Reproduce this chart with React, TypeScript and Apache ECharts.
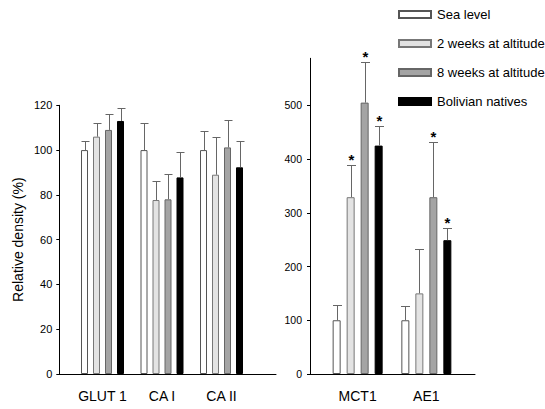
import React, { useEffect, useRef } from "react";
import * as echarts from "echarts";

const seriesNames = ["Sea level", "2 weeks at altitude", "8 weeks at altitude", "Bolivian natives"];
const leftCategories = ["GLUT 1", "CA I", "CA II"];
const rightCategories = ["MCT1", "AE1"];
const leftTicks = [0, 20, 40, 60, 80, 100, 120];
const rightTicks = [0, 100, 200, 300, 400, 500];

// Left panel (means and upper SD)
const seaLevelLeft = [100, 100, 100];
const seaLevelLeftSD = [4, 12, 8.5];
const twoWeeksLeft = [106, 77.7, 89];
const twoWeeksLeftSD = [6, 8.6, 16.7];
const eightWeeksLeft = [109, 78, 101.2];
const eightWeeksLeftSD = [7, 11.1, 12.4];
const bolivianLeft = [113, 87.8, 92.3];
const bolivianLeftSD = [6, 11.5, 11.9];

// Right panel
const seaLevelRight = [100, 100];
const seaLevelRightSD = [28, 26];
const twoWeeksRight = [329, 150];
const twoWeeksRightSD = [60, 83];
const eightWeeksRight = [505, 329];
const eightWeeksRightSD = [76, 102];
const bolivianRight = [425, 249];
const bolivianRightSD = [36, 22];

// significance markers
const seaLevelRightStar = [0, 0];
const twoWeeksRightStar = [1, 0];
const eightWeeksRightStar = [1, 1];
const bolivianRightStar = [1, 1];

const FONT = '"Liberation Sans", Arial, Helvetica, sans-serif';

const barStyles = [
  { color: "#ffffff", borderColor: "#555555", borderWidth: 1 },
  { color: "#e3e3e3", borderColor: "#777777", borderWidth: 1 },
  { color: "#a4a4a4", borderColor: "#666666", borderWidth: 1 },
  { color: "#000000", borderColor: "#000000", borderWidth: 1 },
];

export default function App() {
  const ref = useRef<HTMLDivElement>(null);

  useEffect(() => {
    document.body.style.margin = "0";
    if (!ref.current) return;
    const chart = echarts.init(ref.current, null, { renderer: "svg" });

    const leftMeans = [seaLevelLeft, twoWeeksLeft, eightWeeksLeft, bolivianLeft];
    const leftSD = [seaLevelLeftSD, twoWeeksLeftSD, eightWeeksLeftSD, bolivianLeftSD];
    const rightMeans = [seaLevelRight, twoWeeksRight, eightWeeksRight, bolivianRight];
    const rightSD = [seaLevelRightSD, twoWeeksRightSD, eightWeeksRightSD, bolivianRightSD];
    const rightStars = [seaLevelRightStar, twoWeeksRightStar, eightWeeksRightStar, bolivianRightStar];

    const leftBarW = 7;
    const leftGap = 5;
    const rightBarW = 8;
    const rightGap = 6;

    const series: any[] = [];

    seriesNames.forEach((name, i) => {
      series.push({
        type: "bar",
        name,
        xAxisIndex: 0,
        yAxisIndex: 0,
        data: leftMeans[i],
        barWidth: leftBarW,
        barGap: (leftGap / leftBarW) * 100 + "%",
        itemStyle: barStyles[i],
        z: 2,
      });
      series.push({
        type: "bar",
        name,
        xAxisIndex: 1,
        yAxisIndex: 1,
        data: rightMeans[i],
        barWidth: rightBarW,
        barGap: (rightGap / rightBarW) * 100 + "%",
        itemStyle: barStyles[i],
        z: 2,
      });
    });

    const makeErr = (
      name: string,
      xi: number,
      means: number[],
      sds: number[],
      stars: number[] | null,
      offset: number,
      capW: number
    ) => ({
      type: "custom",
      name,
      xAxisIndex: xi,
      yAxisIndex: xi,
      z: 3,
      silent: true,
      data: means.map((m, k) => [k, m, m + sds[k], stars ? stars[k] : 0]),
      encode: { x: 0, y: [1, 2] },
      renderItem: (params: any, api: any) => {
        const idx = api.value(0);
        const mean = api.value(1);
        const top = api.value(2);
        const star = api.value(3);
        const base = api.coord([idx, mean]);
        const tip = api.coord([idx, top]);
        const x = Math.round(base[0] + offset) + 0.5;
        const ty = Math.round(tip[1]) + 0.5;
        const children: any[] = [
          {
            type: "line",
            shape: { x1: x, y1: base[1], x2: x, y2: ty },
            style: { stroke: "#666666", lineWidth: 1 },
          },
          {
            type: "line",
            shape: { x1: x - capW / 2, y1: ty, x2: x + capW / 2, y2: ty },
            style: { stroke: "#666666", lineWidth: 1 },
          },
        ];
        if (star) {
          children.push({
            type: "text",
            style: {
              text: "*",
              x: x,
              y: ty - 6,
              align: "center",
              verticalAlign: "middle",
              fill: "#000",
              font: "bold 15px " + FONT,
            },
          });
        }
        return { type: "group", children };
      },
    });

    for (let i = 0; i < 4; i++) {
      series.push(
        makeErr("errL" + i, 0, leftMeans[i], leftSD[i], null, (i - 1.5) * (leftBarW + leftGap), leftBarW + 1)
      );
      series.push(
        makeErr("errR" + i, 1, rightMeans[i], rightSD[i], rightStars[i], (i - 1.5) * (rightBarW + rightGap), rightBarW + 1)
      );
    }

    const gridTop = 105.3;
    const gridBottomY = 374;
    const leftH = gridBottomY - gridTop;
    const rightTopVal = 500 * ((gridBottomY - 58.3) / leftH);

    const catAxis = (gi: number, data: string[]) => ({
      type: "category",
      gridIndex: gi,
      data,
      axisLine: { show: false },
      axisTick: { show: false },
      axisLabel: { interval: 0, fontSize: 14, color: "#000", fontFamily: FONT, margin: 15 },
      splitLine: { show: false },
    });

    const lineAxis = (gi: number) => ({
      type: "value",
      gridIndex: gi,
      min: 0,
      max: 1,
      axisLine: { show: true, onZero: false, lineStyle: { color: "#000", width: 1 } },
      axisTick: { show: false },
      axisLabel: { show: false },
      splitLine: { show: false },
    });

    const option: any = {
      animation: false,
      backgroundColor: "#ffffff",
      textStyle: { fontFamily: FONT },
      legend: {
        data: seriesNames,
        orient: "vertical",
        left: 393,
        top: 3,
        itemWidth: 32,
        itemHeight: 7,
        itemGap: 16,
        icon: "rect",
        selectedMode: false,
        textStyle: { fontSize: 13, color: "#000", fontFamily: FONT, padding: [0, 0, 0, 1] },
      },
      grid: [
        { left: 72.75, top: gridTop, width: 178.5, height: leftH },
        { left: 323.3, top: 58.3, width: 137.4, height: gridBottomY - 58.3 },
        { left: 59.3, top: gridTop, width: 216.7, height: leftH },
        { left: 310, top: 58.3, width: 165, height: gridBottomY - 58.3 },
      ],
      xAxis: [catAxis(0, leftCategories), catAxis(1, rightCategories), lineAxis(2), lineAxis(3)],
      yAxis: [
        {
          type: "value",
          gridIndex: 0,
          min: 0,
          max: 120,
          interval: 20,
          offset: 13.45,
          name: "Relative density (%)",
          nameLocation: "middle",
          nameGap: 34,
          nameTextStyle: { fontSize: 14, color: "#000", fontFamily: FONT },
          axisLine: { show: true, lineStyle: { color: "#000" } },
          axisTick: { show: true, length: 3, lineStyle: { color: "#000" }, customValues: leftTicks },
          axisLabel: { fontSize: 11, color: "#000", fontFamily: FONT, margin: 7, customValues: leftTicks },
          splitLine: { show: false },
        },
        {
          type: "value",
          gridIndex: 1,
          min: 0,
          max: rightTopVal,
          interval: 100,
          offset: 13.3,
          axisLine: { show: true, lineStyle: { color: "#000" } },
          axisTick: { show: true, length: 3, lineStyle: { color: "#000" }, customValues: rightTicks },
          axisLabel: { fontSize: 10.5, color: "#000", fontFamily: FONT, margin: 8, customValues: rightTicks },
          splitLine: { show: false },
        },
        { type: "value", gridIndex: 2, show: false, min: 0, max: 1 },
        { type: "value", gridIndex: 3, show: false, min: 0, max: 1 },
      ],
      series,
    };

    chart.setOption(option);
    return () => chart.dispose();
  }, []);

  return <div ref={ref} style={{ width: 545, height: 409 }} />;
}
